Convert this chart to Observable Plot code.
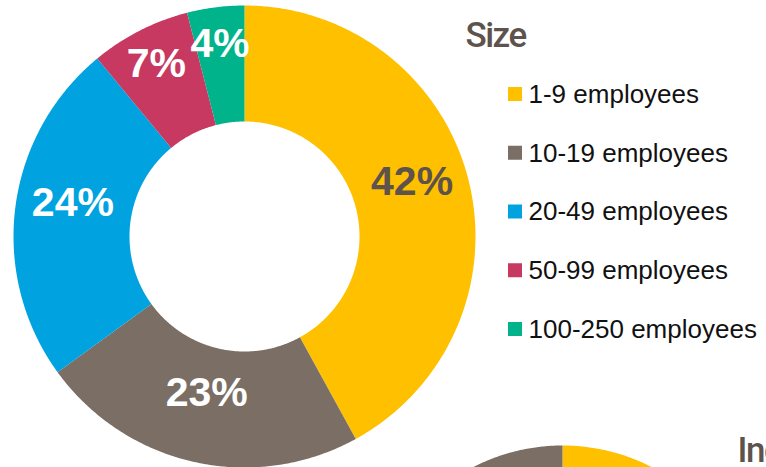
<!DOCTYPE html>
<html>
<head>
<meta charset="utf-8">
<script src="https://cdn.jsdelivr.net/npm/d3@7"></script>
<script src="https://cdn.jsdelivr.net/npm/@observablehq/plot@0.6"></script>
<style>
  html, body { margin: 0; padding: 0; background: #fff; overflow: hidden; }
  #chart svg { display: block; }
</style>
</head>
<body>
<div id="chart"></div>
<script>
// ---- data ----
const categories = ["1-9 employees", "10-19 employees", "20-49 employees", "50-99 employees", "100-250 employees"];
const shares = [42, 23, 24, 7, 4];
const colors = ["#FFC000", "#7A6E65", "#00A3E0", "#C73961", "#00B38A"];
const labelColors = ["#5E524C", "#FFFFFF", "#FFFFFF", "#FFFFFF", "#FFFFFF"];
const legendTitle = "Size";

// second (cropped) donut, only its top is visible
const industryCategories = ["ind-a", "ind-b", "ind-c", "ind-d"];
const industryShares = [35, 25, 20, 20];
const industryColors = ["#FFC000", "#00A3E0", "#C73961", "#7A6E65"];
const industryTitle = "Industry";

// ---- layout ----
const W = 766, H = 467;
const donut = {cx: 244, cy: 236, r0: 115, r1: 231};
const donut2 = {cx: 562, cy: 640, r0: 100, r1: 195};
const legend = {x: 508, y0: 94, step: 58.75, box: 14, textX: 528};
const titleFont = "Roboto, Liberation Sans, sans-serif";

function slicePolys(cats, vals, d) {
  const total = d3.sum(vals);
  const pts = [];
  const meta = [];
  let acc = 0;
  cats.forEach((c, i) => {
    const a0 = acc / total * 2 * Math.PI;
    acc += vals[i];
    const a1 = acc / total * 2 * Math.PI;
    const n = Math.max(2, Math.ceil((a1 - a0) / (Math.PI / 360)));
    for (let k = 0; k <= n; k++) {
      const a = a0 + (a1 - a0) * k / n;
      pts.push({cat: c, x: d.cx + d.r1 * Math.sin(a), y: d.cy - d.r1 * Math.cos(a)});
    }
    for (let k = n; k >= 0; k--) {
      const a = a0 + (a1 - a0) * k / n;
      pts.push({cat: c, x: d.cx + d.r0 * Math.sin(a), y: d.cy - d.r0 * Math.cos(a)});
    }
    const mid = (a0 + a1) / 2;
    const small = vals[i] / total < 0.1;
    const lr = small ? d.r1 * 0.84 : (d.r0 + d.r1) / 2;
    meta.push({cat: c, value: vals[i], i, small,
      x: d.cx + lr * Math.sin(mid),
      y: d.cy - lr * Math.cos(mid) - (small ? 0 : 12)});
  });
  return {pts, meta};
}

const main = slicePolys(categories, shares, donut);
const second = slicePolys(industryCategories, industryShares, donut2);

const labels = main.meta.map(m => ({...m, text: m.value + "%", color: labelColors[m.i]}));
const legendRows = categories.map((c, i) => ({cat: c, i, yc: legend.y0 + i * legend.step}));

const chart = Plot.plot({
  width: W,
  height: H,
  margin: 0,
  x: {domain: [0, W], range: [0, W], axis: null},
  y: {domain: [0, H], range: [0, H], axis: null},
  color: {domain: [...categories, ...industryCategories], range: [...colors, ...industryColors]},
  marks: [
    Plot.line(second.pts, {x: "x", y: "y", z: "cat", fill: "cat", stroke: "none", curve: "linear-closed"}),
    Plot.line(main.pts, {x: "x", y: "y", z: "cat", fill: "cat", stroke: "none", curve: "linear-closed"}),
    ...[...new Set(labelColors)].map(col =>
      Plot.text(labels.filter(d => d.color === col), {
        x: "x", y: "y", text: "text", fill: col,
        fontSize: 41, fontWeight: "bold",
        fontFamily: "Liberation Sans, Arial, sans-serif"
      })
    ),
    Plot.text([legendTitle], {
      x: () => 465, y: () => 46, text: d => d, textAnchor: "start", lineAnchor: "bottom",
      fontSize: 35, fontWeight: 500, fill: "#5E524C", fontFamily: titleFont,
      className: "cond"
    }),
    Plot.text([industryTitle], {
      x: () => 737, y: () => 461, text: d => d, textAnchor: "start", lineAnchor: "bottom",
      fontSize: 35, fontWeight: 500, fill: "#5E524C", fontFamily: titleFont,
      className: "cond"
    }),
    Plot.rect(legendRows, {
      x1: () => legend.x, x2: () => legend.x + legend.box,
      y1: d => d.yc - legend.box / 2, y2: d => d.yc + legend.box / 2,
      fill: "cat"
    }),
    Plot.text(legendRows, {
      x: () => legend.textX, y: "yc", text: "cat", textAnchor: "start",
      fontSize: 26, fill: "#111",
      fontFamily: "Liberation Sans, Arial, sans-serif"
    })
  ]
});
chart.querySelectorAll(".cond text").forEach(t => t.setAttribute("letter-spacing", "-1.5"));
document.getElementById("chart").appendChild(chart);
</script>
</body>
</html>
